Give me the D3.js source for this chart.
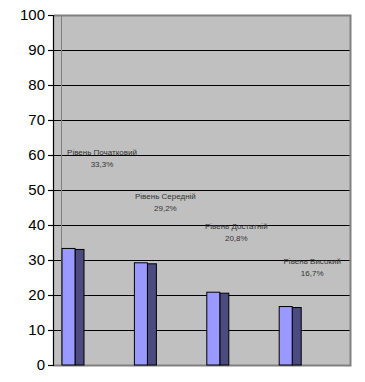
<!DOCTYPE html>
<html><head><meta charset="utf-8">
<script src="https://cdn.jsdelivr.net/npm/d3@7/dist/d3.min.js"></script>
<style>
html,body{margin:0;padding:0;background:#fff;}
svg{display:block;}
</style></head>
<body>
<svg id="chart" width="365" height="382"></svg>
<script>
const categories = ["Рівень Початковий", "Рівень Середній", "Рівень Достатній", "Рівень Високий"];
const values = [33.3, 29.2, 20.8, 16.7];
const valueLabels = ["33,3%", "29,2%", "20,8%", "16,7%"];
const yTicks = [0, 10, 20, 30, 40, 50, 60, 70, 80, 90, 100];
// manually placed data-label anchors (axis units for y, px offset from bar start for x)
const labelY = [60, 47.4, 38.9, 28.9];
const labelDX = [40, 31, 29.5, 33];

(function () {
const svg = d3.select("#chart");
const pLeft = 53, pRight = 350, pTop = 15, pBottom = 365;
const y = d3.scaleLinear().domain([0, 100]).range([pBottom, pTop]);
const x = d3.scaleBand().domain(categories).range([62, 62 + 4 * 72.4]).paddingInner(0).paddingOuter(0);
const frontW = 13, sideW = 9;

// plot background
svg.append("rect").attr("x", pLeft + 1).attr("y", pTop).attr("width", pRight - pLeft - 1).attr("height", pBottom - pTop)
  .attr("fill", "#C0C0C0");

// gridlines
svg.append("g").selectAll("line").data(yTicks.filter(t => t > 0 && t < 100)).join("line")
  .attr("x1", pLeft).attr("x2", pRight)
  .attr("y1", d => Math.round(y(d)) + 0.5).attr("y2", d => Math.round(y(d)) + 0.5)
  .attr("stroke", "#000").attr("stroke-width", 1.2);

// wall edge line
svg.append("line").attr("x1", 61.5).attr("x2", 61.5).attr("y1", pTop).attr("y2", pBottom)
  .attr("stroke", "#808080").attr("stroke-width", 1);

// borders top/right/bottom
svg.append("path")
  .attr("d", `M${pLeft + 1},${pTop + 0.5} H${pRight + 0.5} V${pBottom + 0.5} H${pLeft}`)
  .attr("fill", "none").attr("stroke", "#808080").attr("stroke-width", 2);

// bars
const bars = svg.append("g");
bars.selectAll("rect.side").data(categories).join("rect").attr("class", "side")
  .attr("x", d => x(d) + frontW)
  .attr("y", (d, i) => y(values[i]) + 1)
  .attr("width", sideW)
  .attr("height", (d, i) => pBottom - y(values[i]) - 1)
  .attr("fill", "#4B4B80").attr("stroke", "#000").attr("stroke-width", 1);
bars.selectAll("rect.front").data(categories).join("rect").attr("class", "front")
  .attr("x", d => x(d))
  .attr("y", (d, i) => y(values[i]))
  .attr("width", frontW)
  .attr("height", (d, i) => pBottom - y(values[i]))
  .attr("fill", "#9999FF").attr("stroke", "#000").attr("stroke-width", 1);

// axis
const axis = d3.axisLeft(y).tickValues(yTicks).tickSize(5).tickPadding(3).tickFormat(d3.format("d"));
const ag = svg.append("g").attr("transform", `translate(${pLeft},0)`).call(axis);
ag.select(".domain").attr("stroke", "#000").attr("stroke-width", 1.2);
ag.selectAll(".tick line").attr("stroke", "#000").attr("stroke-width", 1.2);
ag.selectAll(".tick text").attr("font-family", "Liberation Sans, Arial, sans-serif")
  .attr("font-size", 15).attr("fill", "#000");

// data labels
const lbl = svg.append("g").attr("font-family", "Liberation Sans, Arial, sans-serif")
  .attr("font-size", 8).attr("fill", "#333").attr("text-anchor", "middle");
categories.forEach((c, i) => {
  const cx = x(c) + labelDX[i];
  const by = y(labelY[i]);
  lbl.append("text").attr("x", cx).attr("y", by).text(c);
  lbl.append("text").attr("x", cx).attr("y", by + 12).text(valueLabels[i]);
});
})();
</script>
</body></html>
